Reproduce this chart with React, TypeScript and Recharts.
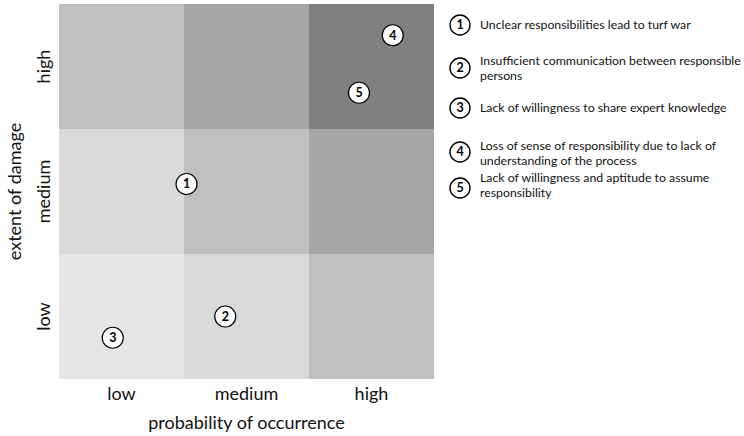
import React from "react";
import { ScatterChart, Scatter, XAxis, YAxis, ReferenceArea, Label } from "recharts";

const probabilityLabels = ["low", "medium", "high"];
const damageLabels = ["low", "medium", "high"];

// cell shades, rows from low damage (bottom) to high damage (top)
const cellColors = [
  ["#e5e5e5", "#d9d9d9", "#bfbfbf"],
  ["#d9d9d9", "#bfbfbf", "#a6a6a6"],
  ["#bfbfbf", "#a6a6a6", "#808080"],
];

const riskIds = [1, 2, 3, 4, 5];
const riskProbability = [1.02, 1.33, 0.43, 2.67, 2.4];
const riskDamage = [1.56, 0.5, 0.33, 2.75, 2.29];
const riskTexts = [
  ["Unclear responsibilities lead to turf war"],
  ["Insufficient communication between responsible", "persons"],
  ["Lack of willingness to share expert knowledge"],
  ["Loss of sense of responsibility due to lack of", "understanding of the process"],
  ["Lack of willingness and aptitude to assume", "responsibility"],
];

const FONT = "Lato, 'Open Sans', sans-serif";
const legendCircleY = [25, 68, 108, 152, 188];
const legendTextY = [25, 68, 108, 153, 185];

const points = riskIds.map((id, i) => ({ id, x: riskProbability[i], y: riskDamage[i] }));

function RiskDot(props: any) {
  const { cx, cy, payload } = props;
  return (
    <g>
      <circle cx={cx} cy={cy} r={10.5} fill="#fff" stroke="#000" strokeWidth={1.2} />
      <text x={cx} y={cy + 4.3} textAnchor="middle" fontFamily={FONT} fontWeight={700} fontSize={12.5} fill="#000">
        {payload.id}
      </text>
    </g>
  );
}

function XTick(props: any) {
  const { x, y, payload } = props;
  return (
    <text x={x} y={y + 21} textAnchor="middle" fontFamily={FONT} fontSize={18} fill="#111">
      {probabilityLabels[Math.floor(payload.value)]}
    </text>
  );
}

function YTick(props: any) {
  const { x, y, payload } = props;
  const bx = x - 9;
  return (
    <text
      x={bx}
      y={y}
      transform={`rotate(-90, ${bx}, ${y})`}
      textAnchor="middle"
      fontFamily={FONT}
      fontSize={18}
      fill="#111"
    >
      {damageLabels[Math.floor(payload.value)]}
    </text>
  );
}

function RiskLegend() {
  return (
    <svg width={304} height={220} style={{ position: "absolute", left: 440, top: 0 }}>
      {riskIds.map((id, i) => {
        const lines = riskTexts[i];
        const first = legendTextY[i] - ((lines.length - 1) * 15) / 2 + 4.4;
        return (
          <g key={id}>
            <circle cx={20} cy={legendCircleY[i]} r={10} fill="#fff" stroke="#000" strokeWidth={1.4} />
            <text x={20} y={legendCircleY[i] + 4.4} textAnchor="middle" fontFamily={FONT} fontWeight={700} fontSize={12.5} fill="#000">
              {id}
            </text>
            {lines.map((line, j) => (
              <text key={j} x={40} y={first + j * 15} fontFamily={FONT} fontSize={12.3} fill="#111">
                {line}
              </text>
            ))}
          </g>
        );
      })}
    </svg>
  );
}

export default function App() {
  return (
    <div style={{ position: "absolute", left: 0, top: 0, width: 744, height: 436, background: "#fff" }}>
      <ScatterChart width={744} height={436} margin={{ top: 4, right: 310, bottom: 0, left: 0 }}>
        {cellColors.map((row, r) =>
          row.map((color, c) => (
            <ReferenceArea
              key={`${r}-${c}`}
              x1={c}
              x2={c + 1}
              y1={r}
              y2={r + 1}
              fill={color}
              fillOpacity={1}
              stroke="none"
              ifOverflow="visible"
            />
          ))
        )}
        <XAxis
          type="number"
          dataKey="x"
          domain={[0, 3]}
          ticks={[0.5, 1.5, 2.5]}
          height={57}
          axisLine={false}
          tickLine={false}
          tickSize={0}
          tickMargin={0}
          tick={<XTick />}
        >
          <Label
            content={(p: any) => {
              const vb = p.viewBox;
              return (
                <text x={vb.x + vb.width / 2} y={vb.y + 50} textAnchor="middle" fontFamily={FONT} fontSize={18} fill="#111">
                  probability of occurrence
                </text>
              );
            }}
          />
        </XAxis>
        <YAxis
          type="number"
          dataKey="y"
          domain={[0, 3]}
          ticks={[0.5, 1.5, 2.5]}
          width={59}
          axisLine={false}
          tickLine={false}
          tickSize={0}
          tickMargin={0}
          tick={<YTick />}
        >
          <Label
            content={(p: any) => {
              const vb = p.viewBox;
              const cx = vb.x + 21;
              const cy = vb.y + vb.height / 2;
              return (
                <text x={cx} y={cy} transform={`rotate(-90, ${cx}, ${cy})`} textAnchor="middle" fontFamily={FONT} fontSize={18} fill="#111">
                  extent of damage
                </text>
              );
            }}
          />
        </YAxis>
        <Scatter data={points} shape={<RiskDot />} isAnimationActive={false} />
      </ScatterChart>
      <RiskLegend />
    </div>
  );
}
